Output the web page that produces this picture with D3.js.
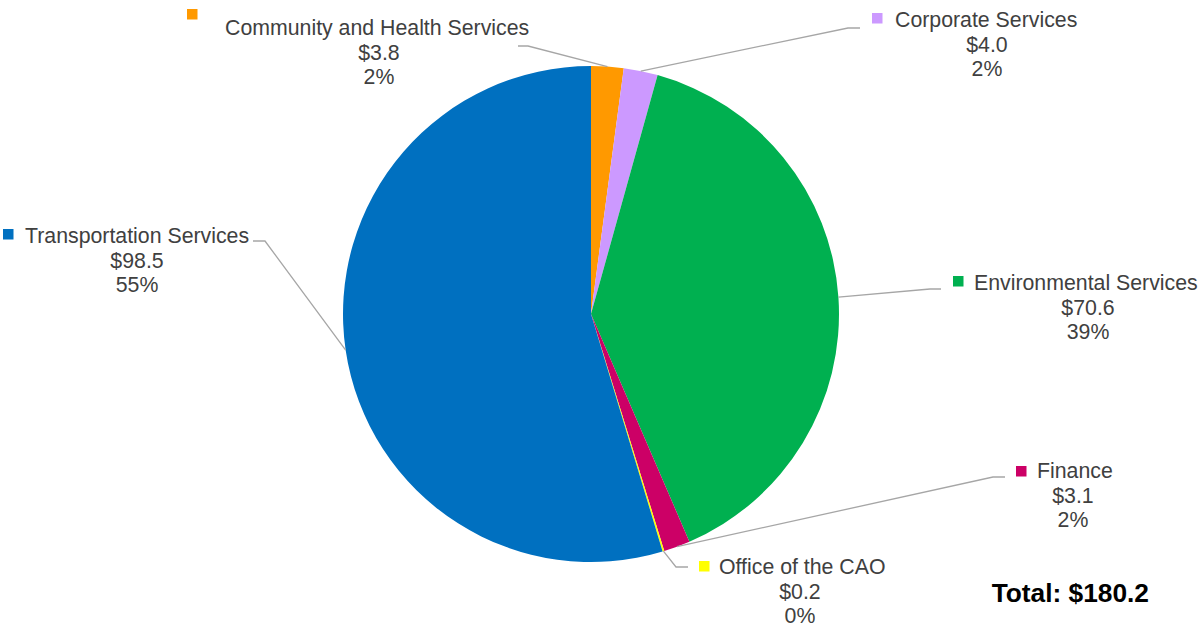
<!DOCTYPE html>
<html>
<head>
<meta charset="utf-8">
<script src="https://cdn.jsdelivr.net/npm/d3@7"></script>
<style>
  html, body { margin: 0; padding: 0; background: #fff; }
  svg { display: block; font-family: "Liberation Sans", Arial, sans-serif; }
</style>
</head>
<body>
<svg id="chart" width="1198" height="627"></svg>
<script>
// ---- data ----
const categories = ["Community and Health Services", "Corporate Services", "Environmental Services", "Finance", "Office of the CAO", "Transportation Services"];
const values = [3.8, 4.0, 70.6, 3.1, 0.2, 98.5];
const colors = ["#FF9900", "#CC99FF", "#00B050", "#CC0066", "#FFFF00", "#0070C0"];
const totalLabel = "Total: $180.2";

// ---- layout (label placement) ----
const layout = {
  "Community and Health Services": { tx: 225, cx: 379, by: 35, mx: 187, my: 9,  elbow: [528, 46],  end: [518, 46] },
  "Corporate Services":            { tx: 895, cx: 987, by: 27, mx: 872, my: 13, elbow: [848, 28],  end: [860, 28] },
  "Environmental Services":        { tx: 974, cx: 1088, by: 290, mx: 953, my: 276, elbow: [930, 289], end: [941, 289] },
  "Finance":                       { tx: 1037, cx: 1073, by: 478, mx: 1016, my: 466, elbow: [993, 477], end: [1005, 477] },
  "Office of the CAO":             { tx: 719, cx: 800, by: 574, mx: 699, my: 561, elbow: [676, 567], end: [688, 567] },
  "Transportation Services":       { tx: 25, cx: 137, by: 243, mx: 3, my: 229, elbow: [265, 241], end: [253, 241] }
};

const svg = d3.select("#chart");
const cx = 591, cy = 314, r = 248;
const total = d3.sum(values);

const data = categories.map((c, i) => ({ name: c, value: values[i], color: colors[i] }));
const pie = d3.pie().value(d => d.value).sort(null);
const arcs = pie(data);
const arc = d3.arc().innerRadius(0).outerRadius(r);

const g = svg.append("g").attr("transform", `translate(${cx},${cy})`);
g.selectAll("path.slice").data(arcs).join("path")
  .attr("class", "slice")
  .attr("d", arc)
  .attr("fill", d => d.data.color);

// leader lines
arcs.forEach(a => {
  const L = layout[a.data.name];
  const mid = (a.startAngle + a.endAngle) / 2;
  const px = cx + r * Math.sin(mid), py = cy - r * Math.cos(mid);
  svg.append("path")
    .attr("d", d3.line()([[px, py], L.elbow, L.end]))
    .attr("fill", "none")
    .attr("stroke", "#A6A6A6")
    .attr("stroke-width", 1.3);
});

// labels
const fmt = d3.format(".1f");
arcs.forEach(a => {
  const L = layout[a.data.name];
  svg.append("rect").attr("x", L.mx).attr("y", L.my).attr("width", 10.5).attr("height", 10.5).attr("fill", a.data.color);
  const t = svg.append("g").attr("fill", "#404040").attr("font-size", 21.3);
  t.append("text").attr("x", L.tx).attr("y", L.by).text(a.data.name);
  t.append("text").attr("x", L.cx).attr("y", L.by + 24.5).attr("text-anchor", "middle").text("$" + fmt(a.data.value));
  t.append("text").attr("x", L.cx).attr("y", L.by + 48.5).attr("text-anchor", "middle").text(Math.round(a.data.value / total * 100) + "%");
});

svg.append("text")
  .attr("x", 1149).attr("y", 602)
  .attr("text-anchor", "end")
  .attr("font-size", 26.3).attr("font-weight", "bold").attr("fill", "#000")
  .text(totalLabel);
</script>
</body>
</html>
